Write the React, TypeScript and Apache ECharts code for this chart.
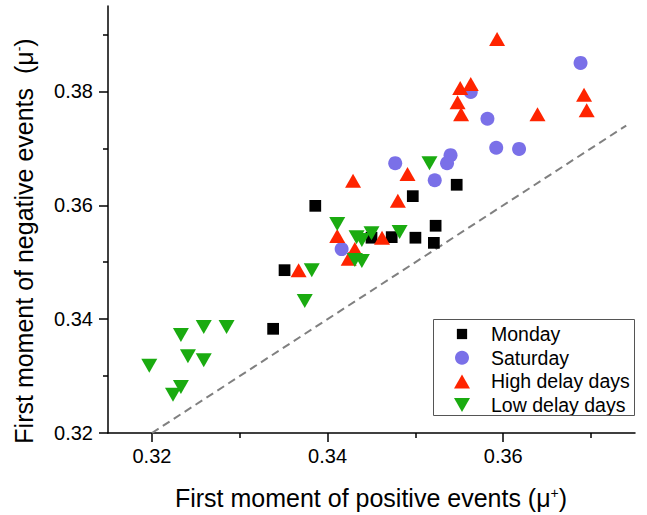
import { useEffect, useRef } from 'react';
import * as echarts from 'echarts';

const FONT = 'Liberation Sans, Arial, sans-serif';

// data: [first moment of positive events, first moment of negative events]
const monday: [number, number][] = [
  [0.3338, 0.3383], [0.3351, 0.3486], [0.3386, 0.3599], [0.345, 0.3543], [0.3473, 0.3544],
  [0.35, 0.3543], [0.3497, 0.3616], [0.3523, 0.3564], [0.3521, 0.3534], [0.3547, 0.3636],
];
const saturday: [number, number][] = [
  [0.3688, 0.385], [0.3563, 0.3799], [0.3582, 0.3752], [0.3592, 0.3701], [0.3618, 0.3699],
  [0.3477, 0.3674], [0.354, 0.3688], [0.3536, 0.3674], [0.3522, 0.3644], [0.3416, 0.3523],
];
const highDelay: [number, number][] = [
  [0.3593, 0.3892], [0.3551, 0.3806], [0.3563, 0.3813], [0.3548, 0.3781], [0.3552, 0.376],
  [0.3639, 0.376], [0.3692, 0.3794], [0.3695, 0.3767], [0.3491, 0.3655], [0.348, 0.3608],
  [0.3462, 0.3543], [0.3429, 0.3643], [0.3411, 0.3546], [0.3431, 0.3523], [0.3424, 0.3506],
  [0.3367, 0.3486],
];
const lowDelay: [number, number][] = [
  [0.3197, 0.3318], [0.3233, 0.3372], [0.3241, 0.3335], [0.3259, 0.3386], [0.3259, 0.3328],
  [0.3285, 0.3386], [0.3233, 0.3281], [0.3224, 0.3267], [0.3374, 0.3432], [0.3382, 0.3486],
  [0.3411, 0.3567], [0.3433, 0.3544], [0.3439, 0.3539], [0.345, 0.3551], [0.3431, 0.3504],
  [0.3439, 0.3502], [0.3482, 0.3553], [0.3516, 0.3674],
];
const identityLine: [number, number][] = [[0.32, 0.32], [0.374, 0.374]];

const seriesNames = ['Monday', 'Saturday', 'High delay days', 'Low delay days'];
const xRange = [0.315, 0.375];
const yRange = [0.32, 0.395];
const xMajorTicks = [0.32, 0.34, 0.36];
const xMinorTicks = [0.33, 0.35, 0.37];
const yMajorTicks = [0.32, 0.34, 0.36, 0.38];
const yMinorTicks = [0.33, 0.35, 0.37, 0.39];

const axisColor = '#000';

function majorAxis(kind: 'x' | 'y', ticks: number[], range: number[]) {
  return {
    type: 'value',
    min: range[0],
    max: range[1],
    position: kind === 'x' ? 'bottom' : 'left',
    axisLine: { show: true, onZero: false, lineStyle: { color: axisColor, width: 1.5 } },
    axisTick: { show: true, length: 9, customValues: ticks, lineStyle: { color: axisColor, width: 1.5 } },
    axisLabel: {
      customValues: ticks,
      formatter: (v: number) => v.toFixed(2),
      fontSize: 20,
      fontFamily: FONT,
      color: '#000',
      margin: kind === 'x' ? 13 : 15,
    },
    splitLine: { show: false },
  };
}
function minorAxis(kind: 'x' | 'y', ticks: number[], range: number[]) {
  return {
    type: 'value',
    min: range[0],
    max: range[1],
    position: kind === 'x' ? 'bottom' : 'left',
    axisLine: { show: false, onZero: false },
    axisTick: { show: true, length: 5, customValues: ticks, lineStyle: { color: axisColor, width: 1.5 } },
    axisLabel: { show: false },
    splitLine: { show: false },
  };
}

const titleRich = {
  n: { fontSize: 25, fontFamily: FONT, fill: '#000', color: '#000' },
  s: { fontSize: 14, fontFamily: FONT, fill: '#000', color: '#000', verticalAlign: 'top' },
};

export default function App() {
  const ref = useRef<HTMLDivElement>(null);
  useEffect(() => {
    document.body.style.margin = '0';
    const chart = echarts.init(ref.current!, null, { renderer: 'svg' });
    const option: any = {
      animation: false,
      backgroundColor: '#fff',
      grid: { left: 108, top: 6, right: 12, bottom: 82, containLabel: false },
      xAxis: [majorAxis('x', xMajorTicks, xRange), minorAxis('x', xMinorTicks, xRange)],
      yAxis: [majorAxis('y', yMajorTicks, yRange), minorAxis('y', yMinorTicks, yRange)],
      legend: {
        data: seriesNames,
        orient: 'vertical',
        left: 433,
        top: 319,
        padding: [5, 0, 1, 21],
        itemWidth: 16,
        itemHeight: 14,
        itemGap: 3.7,
        borderWidth: 0,
        selectedMode: false,
        textStyle: { fontSize: 19.5, fontFamily: FONT, color: '#000', lineHeight: 20, padding: [0, 0, 0, 16] },
      },
      graphic: [
        {
          type: 'rect',
          silent: true,
          shape: { x: 433.5, y: 319.5, width: 201, height: 96 },
          style: { fill: 'none', stroke: '#555', lineWidth: 1 },
          z: 10,
        },
        {
          type: 'text',
          x: 371,
          y: 498,
          silent: true,
          style: {
            text: '{n|First moment of positive events (μ}{s|+}{n|)}',
            rich: titleRich,
            align: 'center',
            verticalAlign: 'middle',
          },
        },
        {
          type: 'text',
          x: 24,
          y: 241,
          rotation: Math.PI / 2,
          silent: true,
          style: {
            text: '{n|First moment of negative events  (μ}{s|-}{n|)}',
            rich: titleRich,
            align: 'center',
            verticalAlign: 'middle',
          },
        },
      ],
      series: [
        {
          type: 'line',
          data: identityLine,
          symbol: 'none',
          silent: true,
          z: 1,
          lineStyle: { color: '#808080', width: 2, type: [8, 5] },
        },
        {
          name: seriesNames[0],
          type: 'scatter',
          data: monday,
          symbol: 'path://M-2 -2M13 13M0 0L11 0L11 11L0 11Z',
          symbolSize: 16,
          itemStyle: { color: '#000', opacity: 1 },
          z: 2,
        },
        {
          name: seriesNames[1],
          type: 'scatter',
          data: saturday,
          symbol: 'circle',
          symbolSize: 14,
          itemStyle: { color: '#7a70e8', opacity: 1 },
          z: 3,
        },
        {
          name: seriesNames[2],
          type: 'scatter',
          data: highDelay,
          symbol: 'path://M8 0L16 14L0 14Z',
          symbolSize: [16, 14],
          itemStyle: { color: '#ff2400', opacity: 1 },
          z: 4,
        },
        {
          name: seriesNames[3],
          type: 'scatter',
          data: lowDelay,
          symbol: 'path://M0 0L16 0L8 14Z',
          symbolSize: [16, 14],
          itemStyle: { color: '#1aab10', opacity: 1 },
          z: 5,
        },
      ],
    };
    chart.setOption(option);
    return () => chart.dispose();
  }, []);
  return <div ref={ref} style={{ width: 647, height: 515 }} />;
}
